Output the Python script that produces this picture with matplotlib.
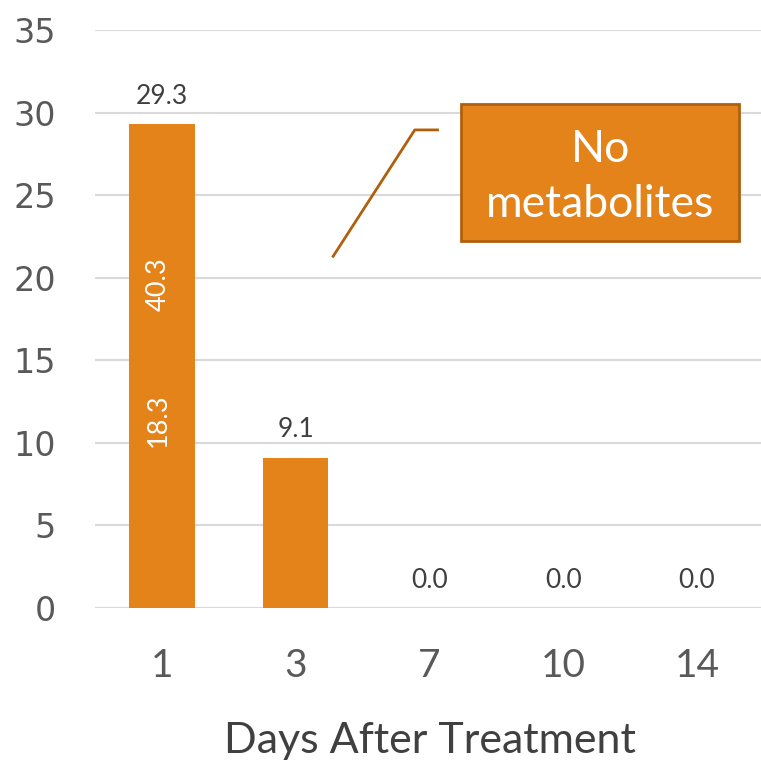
import matplotlib.pyplot as plt
from matplotlib.patches import Rectangle

days = ['1', '3', '7', '10', '14']
residue = [29.3, 9.1, 0.0, 0.0, 0.0]
# values printed inside the first bar
inner_labels = ['40.3', '18.3']
inner_y = [19.6, 11.4]

bar_color = '#E3831A'
edge_color = '#B0600C'
text_color = '#404040'
tick_color = '#595959'

fig = plt.figure(figsize=(7.61, 7.63), dpi=100)
ax = fig.add_axes([95 / 761, 155 / 763, 669 / 761, 578 / 763])

x = range(len(days))
ax.bar(x, residue, width=0.49, color=bar_color, zorder=2)

for i, v in enumerate(residue):
    ax.annotate('{:.1f}'.format(v), (i, v), xytext=(0, 20), textcoords='offset points',
                ha='center', va='center', fontsize=19, color=text_color, family='Lato')

for label, y in zip(inner_labels, inner_y):
    ax.text(-0.03, y, label, rotation=90, ha='center', va='center', fontsize=19.5,
            color='white', family='Lato')

ax.set_xlim(-0.5, 4.5)
ax.set_ylim(0, 35)
ax.set_yticks(range(0, 36, 5))
ax.set_xticks(list(x))
ax.set_xticklabels(days, family='Lato', fontsize=28, color=tick_color)
ax.tick_params(axis='y', labelsize=24, colors=tick_color, length=0, pad=28)
ax.tick_params(axis='x', length=0, pad=29)
for lbl in ax.get_yticklabels():
    lbl.set_family('DejaVu Sans')
ax.grid(axis='y', color='#D9D9D9', linewidth=1.5, zorder=0)
for s in ax.spines.values():
    s.set_visible(False)

ax.set_xlabel('Days After Treatment', family='Lato', fontsize=31, color=text_color, labelpad=27)

# callout
ax.plot([1.28, 1.89, 2.06], [21.3, 28.95, 28.95], color=edge_color, linewidth=2, zorder=3)
ax.add_patch(Rectangle((2.236, 22.2), 2.078, 8.3, facecolor=bar_color, edgecolor=edge_color,
                       linewidth=2, zorder=3))
ax.text(3.275, 26.1, 'No\nmetabolites', ha='center', va='center', fontsize=32,
        color='white', family='Lato', linespacing=1.4, zorder=4)

fig.savefig('out.png')
